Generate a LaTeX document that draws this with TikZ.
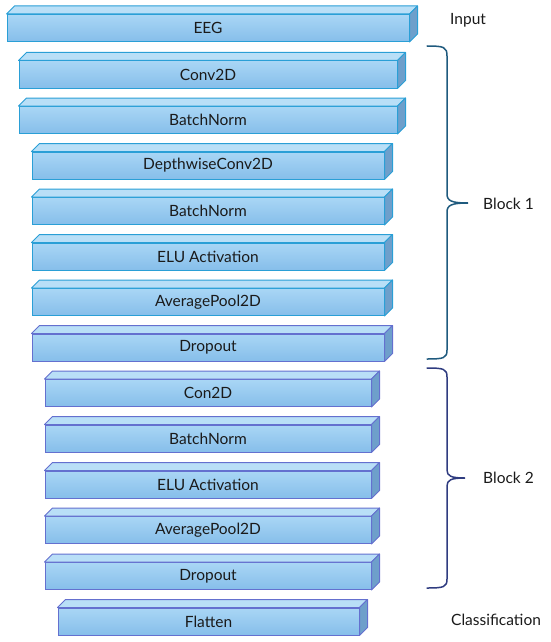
\documentclass[tikz,border=0pt]{standalone}
\usepackage{fontspec}
\setmainfont{Lato}

\definecolor{slabfront1}{HTML}{A9D6F5}
\definecolor{slabfront2}{HTML}{86BEEA}
\definecolor{slabtop}{HTML}{B9DFF7}
\definecolor{slabside}{HTML}{6E9FCB}
\definecolor{edgecyan}{HTML}{2A9FD6}
\definecolor{edgeviolet}{HTML}{6470CF}
\definecolor{braceteal}{HTML}{1F5A7E}
\definecolor{bracenavy}{HTML}{2F3C80}
\definecolor{inktext}{HTML}{1A1A1A}

% top and side faces of a layer slab
\newcommand{\slabfaces}[2]{%
  \draw[#2, line width=1pt, line join=round, fill=slabtop]
    (#1.north west) -- ++(8,-8) -- ([shift={(8,-8)}]#1.north east) -- (#1.north east) -- cycle;
  \draw[#2, line width=1pt, line join=round, fill=slabside]
    (#1.north east) -- ++(8,-8) -- ([shift={(8,-8)}]#1.south east) -- (#1.south east) -- cycle;
}

\begin{document}
\begin{tikzpicture}[
        x=1pt, y=-1pt,
        font=\fontsize{15.5}{18}\selectfont,
        slab/.style={draw, line width=1pt, top color=slabfront1, bottom color=slabfront2, minimum height=27pt, inner sep=0pt, text=inktext},
        tag/.style={anchor=west, text=inktext, inner sep=0pt},
        brace/.style={line width=1.5pt, line cap=round}
      ]
      \useasboundingbox (0,0) rectangle (550,642);

      \node[slab, draw=edgecyan, minimum width=402pt] (eeg) at (208,28) {EEG};

      % block 1
      \node[slab, draw=edgecyan, minimum width=378pt] (conv1) at (208,74.5) {Conv2D};
      \node[slab, draw=edgecyan, minimum width=378pt] (bn1) at (208,120) {BatchNorm};
      \node[slab, draw=edgecyan, minimum width=352pt] (dwconv) at (208,165.5) {DepthwiseConv2D};
      \node[slab, draw=edgecyan, minimum width=352pt] (bn2) at (208,211) {BatchNorm};
      \node[slab, draw=edgecyan, minimum width=352pt] (elu1) at (208,256.5) {ELU Activation};
      \node[slab, draw=edgecyan, minimum width=352pt] (pool1) at (208,302) {AveragePool2D};
      \node[slab, draw=edgeviolet, minimum width=352pt] (drop1) at (208,347.5) {Dropout};

      % block 2
      \node[slab, draw=edgeviolet, minimum width=326pt] (conv2) at (208,393) {Con2D};
      \node[slab, draw=edgeviolet, minimum width=326pt] (bn3) at (208,438.5) {BatchNorm};
      \node[slab, draw=edgeviolet, minimum width=326pt] (elu2) at (208,484.5) {ELU Activation};
      \node[slab, draw=edgeviolet, minimum width=326pt] (pool2) at (208,530) {AveragePool2D};
      \node[slab, draw=edgeviolet, minimum width=326pt] (drop2) at (208,576) {Dropout};

      \node[slab, draw=edgeviolet, minimum width=301pt] (flat) at (208.5,621.5) {Flatten};

      \slabfaces{eeg}{edgecyan}
      \slabfaces{conv1}{edgecyan}
      \slabfaces{bn1}{edgecyan}
      \slabfaces{dwconv}{edgecyan}
      \slabfaces{bn2}{edgecyan}
      \slabfaces{elu1}{edgecyan}
      \slabfaces{pool1}{edgecyan}
      \slabfaces{drop1}{edgeviolet}
      \slabfaces{conv2}{edgeviolet}
      \slabfaces{bn3}{edgeviolet}
      \slabfaces{elu2}{edgeviolet}
      \slabfaces{pool2}{edgeviolet}
      \slabfaces{drop2}{edgeviolet}
      \slabfaces{flat}{edgeviolet}

      % braces
      \draw[brace, braceteal] (427,46) .. controls (444,46) and (447,47) .. (447,56) -- (447,194)
        .. controls (447,201) and (452,203) .. (468,203)
        .. controls (452,203) and (447,205) .. (447,212) -- (447,350)
        .. controls (447,358) and (444,359) .. (427,359);
      \draw[brace, bracenavy] (427,368) .. controls (444,368) and (447,369) .. (447,377) -- (447,470)
        .. controls (447,476) and (451,478) .. (465,478)
        .. controls (451,478) and (447,480) .. (447,486) -- (447,579)
        .. controls (447,587) and (444,588) .. (427,588);

      \node[tag] (input) at (450,20) {Input};
      \node[tag] (block1) at (483,204) {Block 1};
      \node[tag] (block2) at (483,478) {Block 2};
      \node[tag] (classif) at (451,620) {Classification};
    \end{tikzpicture}
\end{document}
